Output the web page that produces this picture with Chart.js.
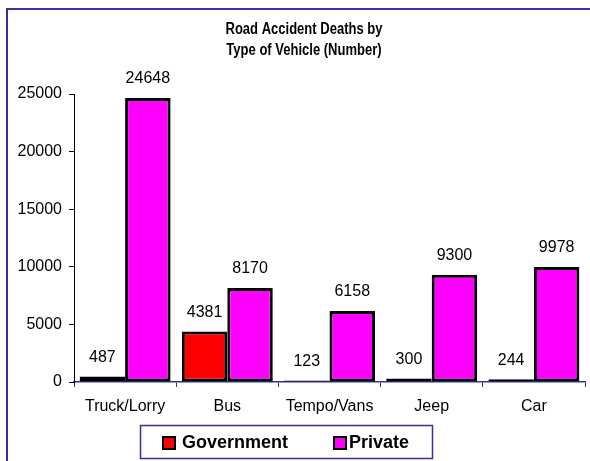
<!DOCTYPE html>
<html>
<head>
<meta charset="utf-8">
<script src="https://cdn.jsdelivr.net/npm/chart.js@4/dist/chart.umd.min.js"></script>
<style>
html,body{margin:0;padding:0;background:#fff;}
#wrap{position:relative;width:590px;height:461px;}
</style>
</head>
<body>
<div id="wrap"><canvas id="c" width="590" height="461"></canvas></div>
<script>
const categories = ["Truck/Lorry", "Bus", "Tempo/Vans", "Jeep", "Car"];
const governmentDeaths = [487, 4381, 123, 300, 244];
const privateDeaths = [24648, 8170, 6158, 9300, 9978];
const titleLines = ["Road Accident Deaths by", "Type of Vehicle (Number)"];
const seriesNames = ["Government", "Private"];
const yTicks = [0, 5000, 10000, 15000, 20000, 25000];

const FONT = "'Liberation Sans', Arial, sans-serif";
const NAVY = "#333399";

const framePlugin = {
  id: 'frame',
  beforeDraw(chart) {
    const ctx = chart.ctx;
    ctx.save();
    ctx.fillStyle = '#fff';
    ctx.fillRect(0, 0, chart.width, chart.height);
    ctx.strokeStyle = NAVY;
    ctx.lineWidth = 2;
    ctx.beginPath();
    ctx.moveTo(7, chart.height + 2);
    ctx.lineTo(7, 9);
    ctx.lineTo(chart.width + 2, 9);
    ctx.stroke();
    ctx.restore();
  }
};

const titlePlugin = {
  id: 'customTitle',
  afterDraw(chart) {
    const ctx = chart.ctx;
    ctx.save();
    ctx.fillStyle = '#000';
    ctx.font = "bold 16px " + FONT;
    ctx.textAlign = 'center';
    ctx.textBaseline = 'middle';
    const targetW = 157;
    const w = ctx.measureText(titleLines[0]).width;
    const sx = targetW / w;
    ctx.translate(304, 0);
    ctx.scale(sx, 1);
    ctx.fillText(titleLines[0], 0, 30);
    ctx.fillText(titleLines[1], 0, 51);
    ctx.restore();
  }
};

const valueLabelPlugin = {
  id: 'valueLabels',
  afterDatasetsDraw(chart) {
    const ctx = chart.ctx;
    ctx.save();
    ctx.fillStyle = '#000';
    ctx.font = "16px " + FONT;
    ctx.textAlign = 'center';
    ctx.textBaseline = 'middle';
    chart.data.datasets.forEach((ds, di) => {
      const meta = chart.getDatasetMeta(di);
      meta.data.forEach((bar, i) => {
        ctx.fillText(String(ds.data[i]), bar.x, bar.y - 19);
      });
    });
    ctx.restore();
  }
};

const legendPlugin = {
  id: 'boxLegend',
  afterDraw(chart) {
    const ctx = chart.ctx;
    ctx.save();
    ctx.strokeStyle = NAVY;
    ctx.lineWidth = 1.5;
    ctx.strokeRect(140.5, 425.5, 292, 33);
    const items = [
      {sq: 163, tx: 182},
      {sq: 334, tx: 349}
    ];
    ctx.font = "bold 18px " + FONT;
    ctx.textAlign = 'left';
    ctx.textBaseline = 'middle';
    chart.data.datasets.forEach((ds, i) => {
      const it = items[i];
      ctx.fillStyle = ds.backgroundColor;
      ctx.fillRect(it.sq, 437, 12, 12);
      ctx.strokeStyle = '#000';
      ctx.lineWidth = 2;
      ctx.strokeRect(it.sq, 437, 12, 12);
      ctx.fillStyle = '#000';
      ctx.fillText(ds.label, it.tx, 443);
    });
    ctx.restore();
  }
};

new Chart(document.getElementById('c'), {
  type: 'bar',
  data: {
    labels: categories,
    datasets: [
      {
        label: seriesNames[0],
        data: governmentDeaths,
        backgroundColor: '#FF0000',
        borderColor: '#000000',
        borderWidth: 3,
        borderSkipped: false
      },
      {
        label: seriesNames[1],
        data: privateDeaths,
        backgroundColor: '#FF00FF',
        borderColor: '#000000',
        borderWidth: 3,
        borderSkipped: false
      }
    ]
  },
  options: {
    responsive: false,
    animation: false,
    events: [],
    layout: { padding: { top: 94, right: 5, bottom: 39, left: 0 } },
    datasets: { bar: { categoryPercentage: 0.89, barPercentage: 1.0 } },
    plugins: {
      legend: { display: false },
      title: { display: false },
      tooltip: { enabled: false }
    },
    scales: {
      x: {
        offset: true,
        grid: { display: true, drawOnChartArea: false, drawTicks: true, tickLength: 5, color: NAVY, lineWidth: 1, offset: true },
        border: { display: true, color: NAVY, width: 1.5 },
        ticks: { color: '#000', font: { family: FONT, size: 16 }, padding: 10, maxRotation: 0, autoSkip: false },
        afterFit(scale) { scale.height = 40; }
      },
      y: {
        min: 0,
        max: 25000,
        afterBuildTicks(scale) { scale.ticks = yTicks.map(v => ({ value: v })); },
        grid: { display: true, drawOnChartArea: false, drawTicks: true, tickLength: 5, color: '#000', lineWidth: 1 },
        border: { display: true, color: '#000', width: 1 },
        ticks: { color: '#000', font: { family: FONT, size: 16 }, padding: 7, callback: (v) => String(v) },
        afterFit(scale) { scale.width = 74; }
      }
    }
  },
  plugins: [framePlugin, valueLabelPlugin, titlePlugin, legendPlugin]
});
</script>
</body>
</html>
